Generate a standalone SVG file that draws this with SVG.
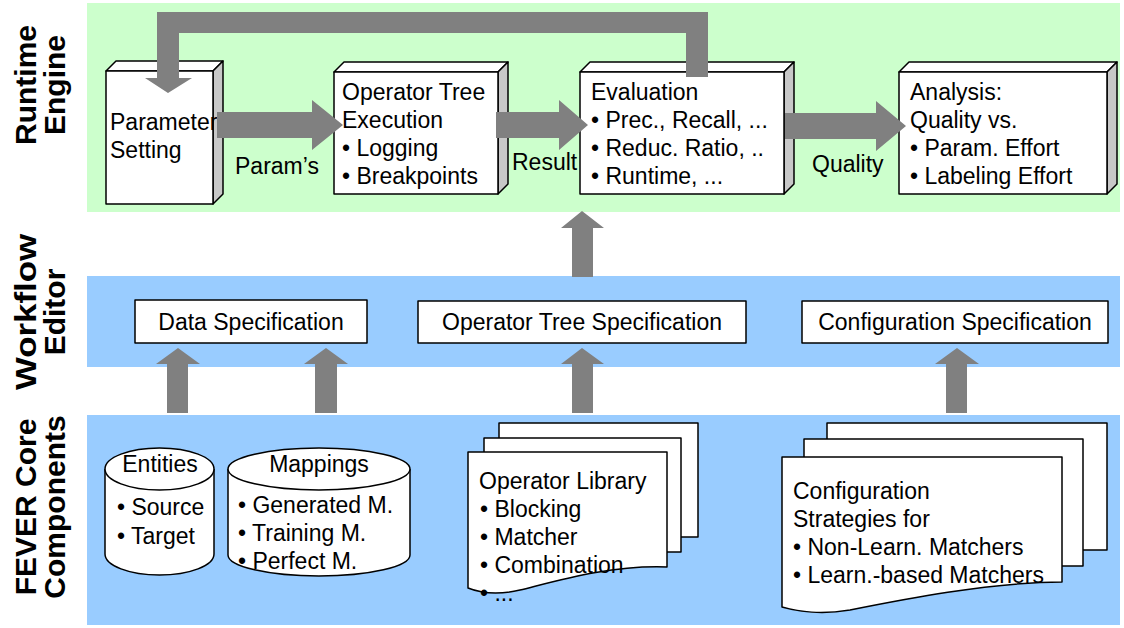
<svg xmlns="http://www.w3.org/2000/svg" width="1124" height="628" viewBox="0 0 1124 628">
  <style>
    .t { font-family: "Liberation Sans", Arial, sans-serif; font-size: 23px; fill: #000; }
    .lbl { font-family: "Liberation Sans", Arial, sans-serif; font-weight: bold; font-size: 30px; fill: #000; text-anchor: middle; }
    .mid { text-anchor: middle; }
    .box { fill: #fff; stroke: #000; stroke-width: 1.5; stroke-linejoin: round; }
    .side { fill: #c8c8c8; stroke: #000; stroke-width: 1.5; stroke-linejoin: round; }
    .arr { fill: #808080; }
  </style>

  <!-- layer bands -->
  <rect x="87" y="3" width="1033" height="209" fill="#ccffcc"/>
  <rect x="87" y="276" width="1033" height="91" fill="#99ccff"/>
  <rect x="87" y="415" width="1033" height="210" fill="#99ccff"/>

  <!-- layer titles -->
  <g id="title-runtime" transform="translate(36,85) rotate(-90)">
    <text class="lbl" x="0" y="0">Runtime</text>
    <text class="lbl" x="0" y="29">Engine</text>
  </g>
  <g id="title-workflow" transform="translate(36,312) rotate(-90)">
    <text class="lbl" x="0" y="0" textLength="156" lengthAdjust="spacingAndGlyphs">Workflow</text>
    <text class="lbl" x="0" y="29">Editor</text>
  </g>
  <g id="title-core" transform="translate(36,507) rotate(-90)">
    <text class="lbl" x="0" y="0">FEVER Core</text>
    <text class="lbl" x="0" y="29">Components</text>
  </g>

  <!-- runtime engine: 3D boxes -->
  <g id="param-setting">
    <path class="box" d="M106,71 L116,61 L223,61 L213,71 Z"/>
    <path class="side" d="M213,71 L223,61 L223,194 L213,204 Z"/>
    <rect class="box" x="106" y="71" width="107" height="133"/>
    <text class="t" x="110" y="130">Parameter</text>
    <text class="t" x="110" y="158">Setting</text>
  </g>
  <g id="tree-execution">
    <path class="box" d="M334,72 L344,62 L508,62 L498,72 Z"/>
    <path class="side" d="M498,72 L508,62 L508,184 L498,194 Z"/>
    <rect class="box" x="334" y="72" width="164" height="122"/>
    <text class="t" x="342" y="100">Operator Tree</text>
    <text class="t" x="342" y="128">Execution</text>
    <text class="t" x="342" y="156">• Logging</text>
    <text class="t" x="342" y="184">• Breakpoints</text>
  </g>
  <g id="evaluation">
    <path class="box" d="M580,72 L590,62 L794,62 L784,72 Z"/>
    <path class="side" d="M784,72 L794,62 L794,184 L784,194 Z"/>
    <rect class="box" x="580" y="72" width="204" height="122"/>
    <text class="t" x="591" y="100">Evaluation</text>
    <text class="t" x="591" y="128">• Prec., Recall, ...</text>
    <text class="t" x="591" y="156">• Reduc. Ratio, ..</text>
    <text class="t" x="591" y="184">• Runtime, ...</text>
  </g>
  <g id="analysis">
    <path class="box" d="M899,72 L909,62 L1117,62 L1107,72 Z"/>
    <path class="side" d="M1107,72 L1117,62 L1117,184 L1107,194 Z"/>
    <rect class="box" x="899" y="72" width="208" height="122"/>
    <text class="t" x="910" y="100">Analysis:</text>
    <text class="t" x="910" y="128">Quality vs.</text>
    <text class="t" x="910" y="156">• Param. Effort</text>
    <text class="t" x="910" y="184">• Labeling Effort</text>
  </g>

  <!-- workflow editor -->
  <g id="data-spec">
    <rect class="box" x="135" y="300" width="232" height="43"/>
    <text class="t mid" x="251" y="330">Data Specification</text>
  </g>
  <g id="tree-spec">
    <rect class="box" x="418" y="301" width="328" height="42"/>
    <text class="t mid" x="582" y="330">Operator Tree Specification</text>
  </g>
  <g id="config-spec">
    <rect class="box" x="802" y="301" width="306" height="42"/>
    <text class="t mid" x="955" y="330">Configuration Specification</text>
  </g>

  <!-- core components: databases -->
  <g id="entities">
    <path class="box" d="M105,469 L105,554 A54.5,21 0 0 0 214,554 L214,469"/>
    <ellipse class="box" cx="159.5" cy="469" rx="54.5" ry="21"/>
    <text class="t mid" x="160" y="472">Entities</text>
    <text class="t" x="117" y="515">• Source</text>
    <text class="t" x="117" y="544">• Target</text>
  </g>
  <g id="mappings">
    <path class="box" d="M228,469 L228,555 A91,21 0 0 0 410,555 L410,469"/>
    <ellipse class="box" cx="319" cy="469" rx="91" ry="21"/>
    <text class="t mid" x="319" y="472">Mappings</text>
    <text class="t" x="238" y="513">• Generated M.</text>
    <text class="t" x="238" y="541">• Training M.</text>
    <text class="t" x="238" y="569">• Perfect M.</text>
  </g>

  <!-- core components: document stacks -->
  <g id="operator-library">
    <rect class="box" x="499" y="423" width="199" height="114"/>
    <rect class="box" x="484" y="438" width="197" height="114"/>
    <path class="box" d="M468,452 H667 V567 C610,565 560,580 520,590 C495,596 478,592 468,588 Z"/>
    <text class="t" x="479" y="489">Operator Library</text>
    <text class="t" x="480" y="517">• Blocking</text>
    <text class="t" x="480" y="545">• Matcher</text>
    <text class="t" x="480" y="573">• Combination</text>
    <text class="t" x="480" y="601">• ...</text>
  </g>
  <g id="config-strategies">
    <rect class="box" x="827" y="423" width="280" height="127"/>
    <rect class="box" x="804" y="439" width="279" height="127"/>
    <path class="box" d="M782,457 H1062 V582 C990,582 900,600 850,610 C820,615 800,612 782,607 Z"/>
    <text class="t" x="793" y="499">Configuration</text>
    <text class="t" x="793" y="527">Strategies for</text>
    <text class="t" x="793" y="555">• Non-Learn. Matchers</text>
    <text class="t" x="793" y="583">• Learn.-based Matchers</text>
  </g>

  <!-- connectors -->
  <g id="connectors">
    <!-- feedback from evaluation back to parameter setting -->
    <path class="arr" d="M686,77 V33 H179 V78 H192 L168,93 L145,78 H157 V12 H708 V77 Z"/>
    <!-- runtime flow -->
    <path class="arr" d="M217,112 H312 V100 L343,125 L312,150 V138 H217 Z"/>
    <path class="arr" d="M496,112 H559 V100 L588,125 L559,150 V138 H496 Z"/>
    <path class="arr" d="M785,113 H876 V101 L906,126 L876,151 V139 H785 Z"/>
    <!-- upward flows -->
    <path class="arr" d="M572,277 V228 H561 L582,211 L604,228 H593 V277 Z"/>
    <path class="arr" d="M167,413 V364 H156 L178,348 L200,364 H188 V413 Z"/>
    <path class="arr" d="M315,413 V364 H304 L326,348 L348,364 H337 V413 Z"/>
    <path class="arr" d="M572,413 V364 H561 L582,348 L604,364 H593 V413 Z"/>
    <path class="arr" d="M946,413 V364 H935 L957,348 L979,364 H967 V413 Z"/>
    <!-- edge labels -->
    <text class="t" x="235" y="174">Param’s</text>
    <text class="t" x="512" y="170">Result</text>
    <text class="t" x="812" y="172">Quality</text>
  </g>
</svg>
